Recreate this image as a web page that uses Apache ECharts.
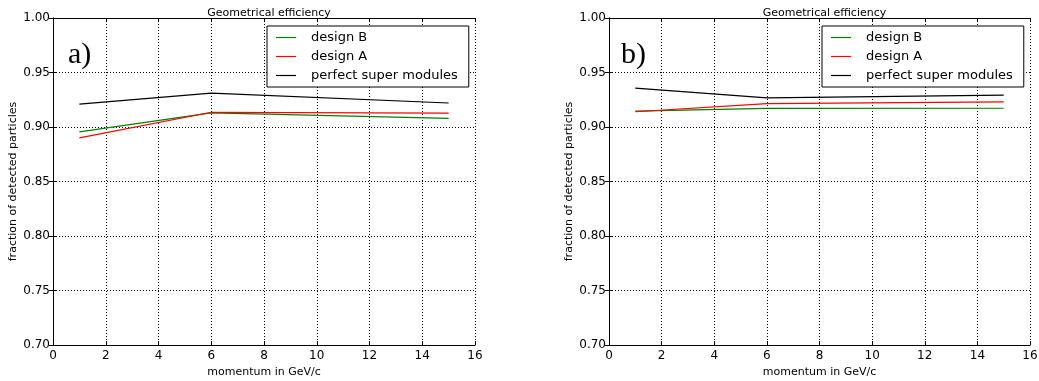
<!DOCTYPE html>
<html>
<head>
<meta charset="utf-8">
<script src="https://cdn.jsdelivr.net/npm/echarts@6/dist/echarts.min.js"></script>
<style>html,body{margin:0;padding:0;background:#fff;}#c{width:1039px;height:381px;}</style>
</head>
<body>
<div id="c"></div>
<script>
const momentum = [1, 6, 15];
const seriesNames = ['design B', 'design A', 'perfect super modules'];
const seriesColors = ['#008000', '#ff0000', '#000000'];
// panel a)
const aDesignB = [0.8955, 0.913, 0.908];
const aDesignA = [0.890, 0.9135, 0.9127];
const aPerfect = [0.921, 0.931, 0.922];
// panel b)
const bDesignB = [0.9145, 0.917, 0.9172];
const bDesignA = [0.914, 0.9215, 0.923];
const bPerfect = [0.9356, 0.9268, 0.9292];
const panelLabels = ['a)', 'b)'];
const titleText = 'Geometrical efficiency';
const xName = 'momentum in GeV/c';
const yName = 'fraction of detected particles';

const font = 'DejaVu Sans';
const grids = [
  {left: 53, width: 422, top: 18, height: 327},
  {left: 609, width: 421, top: 18, height: 327}
];
const panels = [[aDesignB, aDesignA, aPerfect], [bDesignB, bDesignA, bPerfect]];

const xAxes = [], yAxes = [], series = [], titles = [], legends = [], graphics = [];
grids.forEach((g, i) => {
  xAxes.push({
    type: 'value', gridIndex: i, min: 0, max: 16, interval: 2,
    name: xName, nameLocation: 'middle', nameGap: 20,
    nameTextStyle: {fontFamily: font, fontSize: 11, color: '#000'},
    axisLine: {show: true, lineStyle: {color: '#000', width: 1}},
    axisTick: {show: true, inside: true, length: 4, lineStyle: {color: '#000'}},
    axisLabel: {fontFamily: font, fontSize: 12, color: '#000', margin: 5},
    splitLine: {show: true, lineStyle: {color: '#000', type: [1, 2], width: 1}}
  });
  xAxes.push({
    type: 'value', gridIndex: i, min: 0, max: 16, interval: 2, position: 'top',
    axisLine: {show: true, lineStyle: {color: '#000', width: 1}},
    axisTick: {show: true, inside: true, length: 4, lineStyle: {color: '#000'}},
    axisLabel: {show: false}, splitLine: {show: false}
  });
  yAxes.push({
    type: 'value', gridIndex: i, min: 0.7, max: 1.0, interval: 0.05,
    name: yName, nameLocation: 'middle', nameGap: 34, nameRotate: 90,
    nameTextStyle: {fontFamily: font, fontSize: 11, color: '#000'},
    axisLine: {show: true, lineStyle: {color: '#000', width: 1}},
    axisTick: {show: true, inside: true, length: 4, lineStyle: {color: '#000'}},
    axisLabel: {fontFamily: font, fontSize: 12, color: '#000', margin: 3,
      formatter: v => v.toFixed(2)},
    splitLine: {show: true, lineStyle: {color: '#000', type: [1, 2], width: 1}}
  });
  yAxes.push({
    type: 'value', gridIndex: i, min: 0.7, max: 1.0, interval: 0.05, position: 'right',
    axisLine: {show: true, lineStyle: {color: '#000', width: 1}},
    axisTick: {show: true, inside: true, length: 4, lineStyle: {color: '#000'}},
    axisLabel: {show: false}, splitLine: {show: false}
  });
  panels[i].forEach((vals, k) => {
    series.push({
      type: 'line', name: seriesNames[k], xAxisIndex: i * 2, yAxisIndex: i * 2,
      data: momentum.map((m, j) => [m, vals[j]]),
      showSymbol: false, symbol: 'none',
      lineStyle: {color: seriesColors[k], width: 1.2},
      itemStyle: {color: seriesColors[k]},
      z: 3
    });
  });
  const cx = g.left + g.width / 2;
  titles.push({
    text: titleText, left: cx, top: 3, textAlign: 'center',
    textStyle: {fontFamily: font, fontSize: 11, fontWeight: 'normal', color: '#000'}
  });
  legends.push({
    data: seriesNames, orient: 'vertical',
    left: i === 0 ? 267 : 822, top: 26,
    backgroundColor: '#fff', borderColor: '#000', borderWidth: 1,
    padding: [5, 11, 5, 9], itemGap: 6,
    icon: 'rect', itemWidth: 20, itemHeight: 1.2,
    textStyle: {fontFamily: font, fontSize: 13, color: '#000', padding: [0, 0, 0, 10]},
    selectedMode: false
  });
  graphics.push({
    type: 'text', left: i === 0 ? 68 : 621, top: 40,
    style: {text: panelLabels[i], fontFamily: 'Liberation Serif', fontSize: 30, fill: '#000'}
  });
});

const chart = echarts.init(document.getElementById('c'), null, {renderer: 'canvas'});
chart.setOption({
  animation: false,
  backgroundColor: '#fff',
  title: titles,
  legend: legends,
  grid: grids.map(g => Object.assign({show: false, containLabel: false, outerBoundsMode: 'none'}, g)),
  xAxis: xAxes,
  yAxis: yAxes,
  series: series,
  graphic: graphics
});
</script>
</body>
</html>
